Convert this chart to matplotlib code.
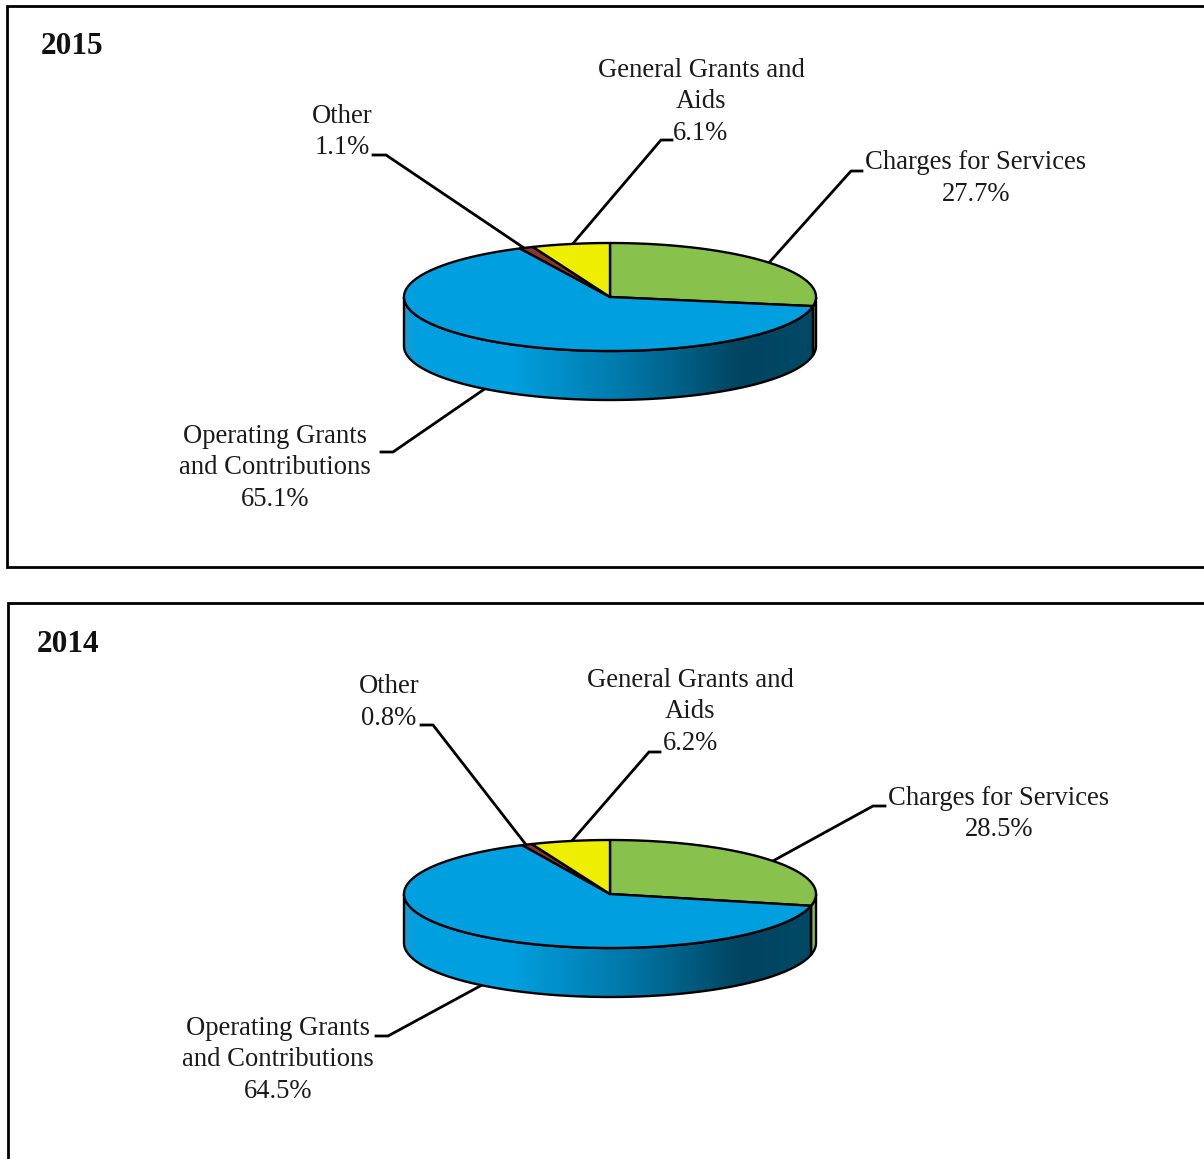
import numpy as np
import matplotlib
matplotlib.use('Agg')
import matplotlib.pyplot as plt
from matplotlib.colors import LinearSegmentedColormap
from matplotlib.patches import Polygon, Rectangle

# order is clockwise from 12 o'clock
categories = ['Charges for Services', 'Operating Grants\nand Contributions', 'Other', 'General Grants and\nAids']
values_2015 = [27.7, 65.1, 1.1, 6.1]
values_2014 = [28.5, 64.5, 0.8, 6.2]
colors = ['#88c24c', '#00a0e0', '#8c3530', '#eeee00']

plt.rcParams['font.family'] = ['Liberation Serif', 'DejaVu Serif']

side_cmap = LinearSegmentedColormap.from_list('side', [
    (0.0, '#1a9ccf'), (0.03, '#00a0e0'), (0.26, '#00a0e0'),
    (0.55, '#0076a6'), (0.82, '#00445f'), (1.0, '#004a66')])

fig = plt.figure(figsize=(12.04, 11.59), dpi=100)
ax = fig.add_axes([0, 0, 1, 1])
ax.set_xlim(0, 1204)
ax.set_ylim(1159, 0)
ax.axis('off')


def arc(cx, cy, rx, ry, t0, t1):
    t = np.radians(np.linspace(t0, t1, 200))
    return np.column_stack([cx + rx * np.cos(t), cy - ry * np.sin(t)])


def pie3d(values, cx, cy, rx=206, ry=54, depth=49):
    # side wall first, only the front half shows
    angle = 90.0
    for val, col in zip(values, colors):
        end = angle - val * 3.6
        t0, t1 = max(end, -180), min(angle, 0)
        if t1 > t0:
            top = arc(cx, cy, rx, ry, t0, t1)
            bot = top[::-1] + [0, depth]
            poly = Polygon(np.vstack([top, bot]), closed=True, fc=col if col != colors[1] else 'none',
                           ec='none', zorder=2)
            ax.add_patch(poly)
            if col == colors[1]:
                grad = np.linspace(0, 1, 256).reshape(1, -1)
                im = ax.imshow(grad, cmap=side_cmap, extent=[cx - rx, cx + rx, cy + ry + depth, cy], aspect='auto', zorder=2)
                im.set_clip_path(poly)
                ax.set_xlim(0, 1204)
                ax.set_ylim(1159, 0)
            ax.add_patch(Polygon(np.vstack([top, bot]), closed=True, fc='none', ec='black', lw=1.7, zorder=3))
        angle = end
    # top face
    angle = 90.0
    for val, col in zip(values, colors):
        end = angle - val * 3.6
        pts = np.vstack([[cx, cy], arc(cx, cy, rx, ry, angle, end)])
        ax.add_patch(Polygon(pts, closed=True, fc=col, ec='black', lw=1.7, joinstyle='round', zorder=4))
        angle = end


def label(txt, x, y, leader):
    ax.text(x, y, txt, ha='center', va='center', fontsize=19.2, color='#1a1a1a', linespacing=1.34, zorder=6)
    xs, ys = zip(*leader)
    ax.plot(xs, ys, color='black', lw=2, solid_joinstyle='miter', zorder=1)


def pct(i, values):
    return f'{categories[i]}\n{values[i]}%'


# frames
ax.add_patch(Rectangle((7, 6), 1260, 561, fc='white', ec='black', lw=2, zorder=0))
ax.add_patch(Rectangle((8, 603), 1260, 600, fc='white', ec='black', lw=2, zorder=0))

ax.text(41, 46, '2015', fontsize=22.5, fontweight='bold', ha='left', va='center', color='#111111')
ax.text(37, 644, '2014', fontsize=22.5, fontweight='bold', ha='left', va='center', color='#111111')

pie3d(values_2015, 610, 297)
label(pct(2, values_2015), 342.5, 132, [(373, 155), (386, 155), (527, 250)])
label(pct(3, values_2015), 701, 102, [(672, 140), (661, 140), (570, 247)])
label(pct(0, values_2015), 976, 178.5, [(862, 171), (851, 171), (766, 266)])
label(pct(1, values_2015), 275, 468, [(381, 452), (393, 452), (486, 388)])

pie3d(values_2014, 610, 894)
label(pct(2, values_2014), 389, 702.5, [(421, 725), (433, 725), (527, 846)])
label(pct(3, values_2014), 690, 712, [(660, 752), (649, 752), (570, 843)])
label(pct(0, values_2014), 999, 814, [(885, 806), (873, 806), (771, 862)])
label(pct(1, values_2014), 278, 1060, [(376, 1036), (388, 1036), (482, 985)])

fig.savefig('out.png', dpi=100)
